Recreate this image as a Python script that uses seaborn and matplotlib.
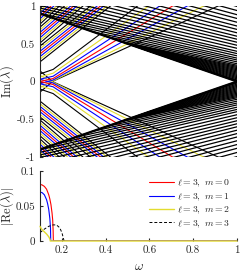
import numpy as np
import pandas as pd
import seaborn as sns
import matplotlib.pyplot as plt
from matplotlib.ticker import FuncFormatter

sns.set_style("ticks")
plt.rcParams["font.family"] = ["cmr10", "DejaVu Serif"]
plt.rcParams["mathtext.fontset"] = "cm"
plt.rcParams["axes.unicode_minus"] = False

RED = "#ff0000"
BLUE = "#0000ff"
YEL = "#e3dc30"
BLK = "#000000"

# ---- spectrum Im(lambda), upper half (lower half is the mirror image) ----
# central group that pinches near omega ~ 0.16
cen_colors = [BLK, YEL, BLUE, RED, BLUE, YEL, BLK]
cen_left = [0.10, 0.06, 0.03, 0.00, -0.03, -0.08, -0.14]   # Im at omega = 0.1
cen_knot = [0.16, 0.11, 0.07, 0.04, 0.02, 0.01, 0.005]     # Im at omega = 0.16
cen_slope = [2.18, 2.04, 1.91, 1.76, 1.60, 1.44, 1.32]

# fan of lines rising from the left edge
fan_colors = [BLK, YEL, BLUE, RED, BLUE, YEL, BLK] * 3
fan_left = [0.26, 0.295, 0.33, 0.365, 0.40, 0.435, 0.47,
            0.51, 0.545, 0.58, 0.615, 0.65, 0.685, 0.72,
            0.76, 0.795, 0.83, 0.865, 0.90, 0.935, 0.97]
fan_slope = [2.3] * 7 + [2.5] * 7 + [2.7] * 7

# black lines above the edge Im = 1 - omega: value at omega = 1 and slope
cont_right = [0.0, 0.01, 0.02, 0.035, 0.05, 0.065, 0.08, 0.095, 0.11, 0.125,
              0.14, 0.155, 0.17, 0.185, 0.20,
              0.215, 0.235, 0.26, 0.285, 0.31, 0.34, 0.37, 0.40, 0.44, 0.48,
              0.52, 0.56, 0.60, 0.645, 0.69, 0.735, 0.785, 0.835, 0.885,
              0.94, 0.995]
cont_slope = [1.0, 0.975, 0.95, 0.92, 0.895, 0.865, 0.84, 0.81, 0.785, 0.755,
              0.73, 0.70, 0.675, 0.65, 0.625,
              0.64, 0.645, 0.65, 0.655, 0.66, 0.665, 0.67, 0.675, 0.68, 0.69,
              0.70, 0.71, 0.72, 0.73, 0.74, 0.75, 0.76, 0.77, 0.78, 0.79, 0.80]

# ---- |Re(lambda)|, l = 3 ----
w_m0 = [0.1, 0.11, 0.12, 0.13, 0.14, 0.145, 0.15, 0.155, 0.158, 0.16, 0.161, 1.0]
re_m0 = [0.081, 0.080, 0.078, 0.074, 0.066, 0.060, 0.052, 0.040, 0.030, 0.015, 0.0, 0.0]
w_m1 = [0.1, 0.11, 0.12, 0.13, 0.135, 0.14, 0.145, 0.148, 0.149, 1.0]
re_m1 = [0.070, 0.069, 0.066, 0.059, 0.053, 0.045, 0.032, 0.018, 0.0, 0.0]
w_m2 = [0.1, 0.105, 0.11, 0.12, 0.13, 0.14, 0.145, 0.147, 1.0]
re_m2 = [0.021, 0.018, 0.016, 0.013, 0.010, 0.006, 0.003, 0.0, 0.0]
w_m3 = [0.1, 0.12, 0.14, 0.16, 0.175, 0.19, 0.2, 0.206, 0.21]
re_m3 = [0.012, 0.017, 0.021, 0.023, 0.023, 0.019, 0.012, 0.005, 0.0]

w = np.linspace(0.1, 1.0, 451)

colored = []
black = []
for sign in (1, -1):
    for i, c in enumerate(cen_colors):
        im = np.where(w < 0.16,
                      cen_left[i] + (cen_knot[i] - cen_left[i]) * (w - 0.1) / 0.06,
                      cen_knot[i] + cen_slope[i] * (w - 0.16))
        colored.append(pd.DataFrame({"w": w, "im": sign * im, "line": f"c{sign}{i}", "color": c}))
    for i, c in enumerate(fan_colors):
        im = fan_left[i] + fan_slope[i] * (w - 0.1)
        colored.append(pd.DataFrame({"w": w, "im": sign * im, "line": f"f{sign}{i}", "color": c}))
    for i in range(len(cont_right)):
        im = cont_right[i] + cont_slope[i] * (1 - w)
        im = np.where(im >= (1 - w) - 1e-3, im, np.nan)
        black.append(pd.DataFrame({"w": w, "im": sign * im, "line": f"k{sign}{i}", "color": BLK}))

colored = pd.concat(colored)
colored = colored[colored["im"].abs() < 1.1]
black = pd.concat(black).dropna()
black = black[black["im"].abs() < 1.1]

fig = plt.figure(figsize=(2.4, 2.73), dpi=100)
ax1 = fig.add_axes([40 / 240, 116 / 273, 197 / 240, 151 / 273])
ax2 = fig.add_axes([40 / 240, 32 / 273, 197 / 240, 70 / 273])

pal = {c: c for c in [RED, BLUE, YEL, BLK]}
sns.lineplot(data=colored, x="w", y="im", units="line", estimator=None,
             hue="color", palette=pal, legend=False, sort=False, lw=0.8, ax=ax1)
sns.lineplot(data=black, x="w", y="im", units="line", estimator=None,
             color=BLK, legend=False, sort=False, lw=0.9, ax=ax1)
# the edge lines themselves look thicker
edge = pd.DataFrame({"w": w, "up": 1 - w, "dn": w - 1})
sns.lineplot(data=edge, x="w", y="up", color=BLK, lw=1.6, ax=ax1)
sns.lineplot(data=edge, x="w", y="dn", color=BLK, lw=1.6, ax=ax1)

ax1.set_xlim(0.1, 1)
ax1.set_ylim(-1, 1)
ax1.set_yticks([-1, -0.5, 0, 0.5, 1])
ax1.tick_params(labelbottom=False, bottom=False, direction="in", length=2, labelsize=8)
ax1.set_xlabel("")
ax1.set_ylabel(r"$\mathrm{Im}(\lambda)$", fontsize=9)
ax1.yaxis.set_label_coords(-0.12, 0.5)
sns.despine(ax=ax1, bottom=True)

sns.lineplot(x=w_m0, y=re_m0, color=RED, lw=0.8, sort=False, label=r"$\ell=3,\ m=0$", ax=ax2)
sns.lineplot(x=w_m1, y=re_m1, color=BLUE, lw=0.8, sort=False, label=r"$\ell=3,\ m=1$", ax=ax2)
sns.lineplot(x=w_m2, y=re_m2, color=YEL, lw=1.0, sort=False, label=r"$\ell=3,\ m=2$", ax=ax2)
ax2.lines[-1].set_clip_on(False)
ax2.lines[-1].set_zorder(3)
sns.lineplot(x=w_m3, y=re_m3, color=BLK, lw=0.7, sort=False, linestyle="--",
             label=r"$\ell=3,\ m=3$", ax=ax2)
ax2.lines[-1].set_dashes((3, 2))

ax2.set_xlim(0.1, 1)
ax2.set_ylim(0, 0.1)
ax2.set_xticks([0.2, 0.4, 0.6, 0.8, 1])
ax2.set_yticks([0, 0.05, 0.1])
fmt = FuncFormatter(lambda v, p: f"{v:g}")
ax2.xaxis.set_major_formatter(fmt)
ax2.yaxis.set_major_formatter(fmt)
ax1.yaxis.set_major_formatter(fmt)
ax2.tick_params(direction="in", length=2, labelsize=8)
ax2.set_xlabel(r"$\omega$", fontsize=9.5)
ax2.set_ylabel(r"$|\mathrm{Re}(\lambda)|$", fontsize=9)
ax2.yaxis.set_label_coords(-0.12, 0.5)
ax2.legend(loc="upper right", frameon=False, fontsize=7, handlelength=2.6,
           labelspacing=0.2, borderaxespad=0.3, handletextpad=0.3)
sns.despine(ax=ax2)
ax2.spines["bottom"].set_visible(False)

fig.savefig("out.png", dpi=100)
